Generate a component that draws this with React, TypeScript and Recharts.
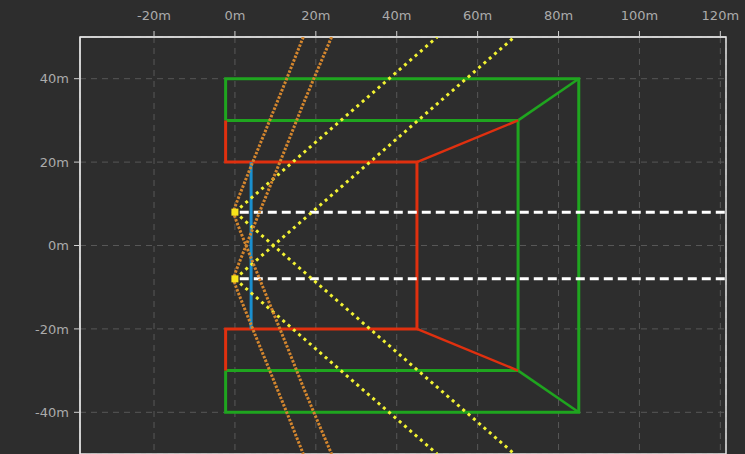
import React from 'react';
import { ScatterChart, Scatter, XAxis, YAxis, CartesianGrid, ReferenceArea } from 'recharts';

// axis setup (metres)
const xTicks = [-20, 0, 20, 40, 60, 80, 100, 120];
const yTicks = [-40, -20, 0, 20, 40];
const xDomain: [number, number] = [-38.3, 121.4];
const yDomain: [number, number] = [-50, 50];

// zone outlines
const greenOuter = [
  { x: -2.3, y: 30 }, { x: -2.3, y: 40 }, { x: 85, y: 40 }, { x: 85, y: -40 },
  { x: -2.3, y: -40 }, { x: -2.3, y: -30 },
];
const greenInner = [{ x: -2.3, y: 30 }, { x: 70, y: 30 }, { x: 70, y: -30 }, { x: -2.3, y: -30 }];
const greenTopDiag = [{ x: 70, y: 30 }, { x: 85, y: 40 }];
const greenBottomDiag = [{ x: 70, y: -30 }, { x: 85, y: -40 }];

const redInner = [
  { x: -2.3, y: 30 }, { x: -2.3, y: 20 }, { x: 45, y: 20 }, { x: 45, y: -20 },
  { x: -2.3, y: -20 }, { x: -2.3, y: -30 },
];
const redTopDiag = [{ x: 45, y: 20 }, { x: 70, y: 30 }];
const redBottomDiag = [{ x: 45, y: -20 }, { x: 70, y: -30 }];

const blueBar = [{ x: 4, y: 20 }, { x: 4, y: -20 }];

// sensors and their beams
const sensors = [{ x: 0, y: 8 }, { x: 0, y: -8 }];
const beamTop = [{ x: 1.2, y: 8 }, { x: 121.4, y: 8 }];
const beamBottom = [{ x: 1.2, y: -8 }, { x: 121.4, y: -8 }];

const rayA = [{ x: 0, y: 8 }, { x: 50, y: 50 }];
const rayB = [{ x: 0, y: 8 }, { x: 69.1, y: -50 }];
const rayC = [{ x: 0, y: -8 }, { x: 69.1, y: 50 }];
const rayD = [{ x: 0, y: -8 }, { x: 50, y: -50 }];

const fovTop = [
  { x: 16.9, y: 50 }, { x: 12.8, y: 40 }, { x: 8.6, y: 30 }, { x: 4.4, y: 20 },
  { x: 2.75, y: 16 }, { x: 1.1, y: 12 }, { x: 0.3, y: 10 }, { x: -0.4, y: 8 },
  { x: 0.3, y: 6 }, { x: 1.1, y: 4 }, { x: 2.75, y: 0 }, { x: 4.4, y: -4 },
  { x: 8.6, y: -14 }, { x: 12.8, y: -24 }, { x: 16.9, y: -34 }, { x: 19.5, y: -40 },
  { x: 23.9, y: -50 },
];
const fovBottom = [
  { x: 23.9, y: 50 }, { x: 19.5, y: 40 }, { x: 16.9, y: 34 }, { x: 12.8, y: 24 },
  { x: 8.6, y: 14 }, { x: 4.4, y: 4 }, { x: 2.75, y: 0 }, { x: 1.1, y: -4 },
  { x: 0.3, y: -6 }, { x: -0.4, y: -8 }, { x: 0.3, y: -10 }, { x: 1.1, y: -12 },
  { x: 2.75, y: -16 }, { x: 4.4, y: -20 }, { x: 8.6, y: -30 }, { x: 12.8, y: -40 },
  { x: 16.9, y: -50 },
];

const GREEN = '#1fa51f';
const RED = '#e0300f';
const BLUE = '#1a8fcf';
const YELLOW = '#f2f232';
const ORANGE = '#d4862e';
const TEXT = '#ababab';

const noShape = () => null;

const poly = (key: string, data: { x: number; y: number }[], stroke: string, width: number, dash?: string) => (
  <Scatter
    key={key}
    data={data}
    fill={stroke}
    line={{ stroke, strokeWidth: width, strokeDasharray: dash }}
    lineType="joint"
    shape={noShape}
    isAnimationActive={false}
  />
);

const SensorSquare = (props: any) => (
  <rect x={props.cx - 3.5} y={props.cy - 3.5} width={7} height={7} fill="#f7e21a" />
);

export default function App() {
  const fmt = (v: number) => `${v}m`;
  return (
    <div style={{ position: 'fixed', left: 0, top: 0, width: 745, height: 454, overflow: 'hidden', background: '#2d2d2d' }}>
      <ScatterChart width={745} height={458} margin={{ top: 0, right: 19, bottom: 4, left: 0 }}>
        <CartesianGrid stroke="#575757" strokeDasharray="6 5" />
        <XAxis
          type="number"
          dataKey="x"
          orientation="top"
          domain={xDomain}
          ticks={xTicks}
          allowDataOverflow
          height={37}
          tickFormatter={fmt}
          tickSize={6}
          tickMargin={11}
          tick={{ fill: TEXT, fontSize: 13, fontFamily: 'DejaVu Sans' }}
          axisLine={{ stroke: '#e6e6e6' }}
          tickLine={{ stroke: '#d0d0d0' }}
        />
        <YAxis
          type="number"
          dataKey="y"
          domain={yDomain}
          ticks={yTicks}
          allowDataOverflow
          width={80}
          tickFormatter={fmt}
          tickSize={6}
          tickMargin={5}
          tick={{ fill: TEXT, fontSize: 13, fontFamily: 'DejaVu Sans' }}
          axisLine={{ stroke: '#e6e6e6' }}
          tickLine={{ stroke: '#d0d0d0' }}
        />
        {poly('go', greenOuter, GREEN, 3)}
        {poly('gi', greenInner, GREEN, 3)}
        {poly('gt', greenTopDiag, GREEN, 2.5)}
        {poly('gb', greenBottomDiag, GREEN, 2.5)}
        {poly('ri', redInner, RED, 3)}
        {poly('rt', redTopDiag, RED, 2.5)}
        {poly('rb', redBottomDiag, RED, 2.5)}
        {poly('bl', blueBar, BLUE, 3)}
        {poly('wt', beamTop, '#ffffff', 3, '9 5')}
        {poly('wb', beamBottom, '#ffffff', 3, '9 5')}
        {poly('ya', rayA, YELLOW, 3, '3 4')}
        {poly('yb', rayB, YELLOW, 3, '3 4')}
        {poly('yc', rayC, YELLOW, 3, '3 4')}
        {poly('yd', rayD, YELLOW, 3, '3 4')}
        {poly('ot', fovTop, ORANGE, 3, '2.5 1.5')}
        {poly('ob', fovBottom, ORANGE, 3, '2.5 1.5')}
        <Scatter data={sensors} fill="#f7e21a" shape={SensorSquare} isAnimationActive={false} />
        <ReferenceArea x1={xDomain[0]} x2={xDomain[1]} y1={yDomain[0]} y2={yDomain[1]} fill="none" stroke="#e6e6e6" strokeWidth={1.5} ifOverflow="visible" />
      </ScatterChart>
    </div>
  );
}
